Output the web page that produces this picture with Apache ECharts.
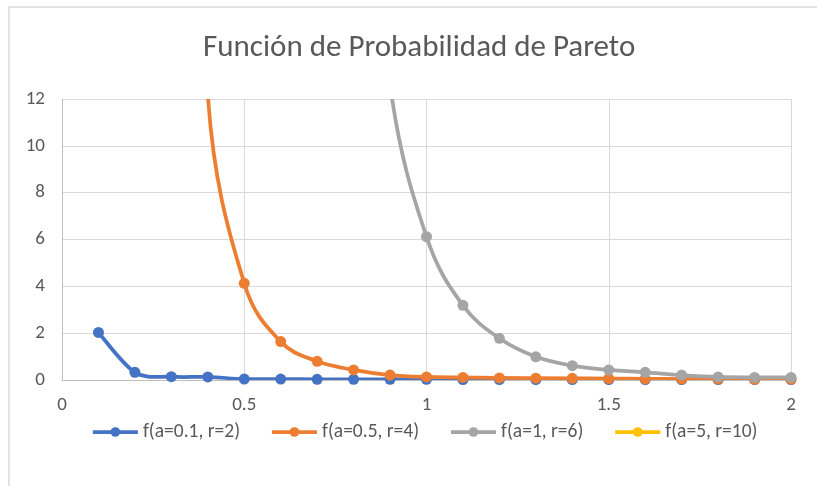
<!DOCTYPE html>
<html>
<head>
<meta charset="utf-8">
<script src="https://cdn.jsdelivr.net/npm/echarts@6/dist/echarts.min.js"></script>
<style>html,body{margin:0;padding:0;background:#fff}#c{width:817px;height:486px}</style>
</head>
<body>
<div id="c"></div>
<script>
// x values
const xValues = [0.1,0.2,0.3,0.4,0.5,0.6,0.7,0.8,0.9,1.0,1.1,1.2,1.3,1.4,1.5,1.6,1.7,1.8,1.9,2.0];
// series values (values above 12 are off-chart estimates)
const blue   = [2.03,0.33,0.14,0.13,0.04,0.04,0.03,0.03,0.03,0.03,0.02,0.02,0.02,0.02,0.02,0.02,0.02,0.02,0.02,0.02];
const orange = [12500,390,51,12.2,4.13,1.64,0.8,0.43,0.21,0.13,0.11,0.09,0.08,0.07,0.06,0.05,0.04,0.04,0.03,0.03];
const gray   = [6.0e7,470000,27000,3700,770,214,73,28.6,12.6,6.12,3.19,1.78,0.99,0.61,0.43,0.33,0.21,0.13,0.11,0.11];
const yellow = [9e6,5e6,3e6,2e6,1.5e6,1.2e6,1e6,8e5,7e5,6e5,5.5e5,5e5,4.5e5,4e5,3.6e5,3.3e5,3e5,2.8e5,2.6e5,2.4e5];
const seriesNames = ['f(a=0.1, r=2)','f(a=0.5, r=4)','f(a=1, r=6)','f(a=5, r=10)'];
const colors = ['#4472C4','#ED7D31','#A5A5A5','#FFC000'];
const xTicks = {min:0, max:2, interval:0.5};
const yTicks = {min:0, max:12, interval:2};

const all = [blue, orange, gray, yellow];
const pair = arr => xValues.map((x,i)=>[x,arr[i]]);
const font = 'Calibri, Carlito, "Open Sans", sans-serif';
const LW = 3.75;

// Excel-like smoothing: control point = p_i +/- (p_{i+1}-p_{i-1})/6, limited to half the segment
function ctrl(prev, cur, next, seg) {
  const dx = next[0]-prev[0], dy = next[1]-prev[1];
  const len = Math.hypot(dx,dy);
  if (len === 0) return [0,0];
  let f = 1/6;
  const segLen = Math.hypot(seg[0], seg[1]);
  if (len*f > 0.5*segLen) f = 0.5*segLen/len;
  return [dx*f, dy*f];
}
function curveSeries(arr, i) {
  return {
    name: 'curve'+i, type:'custom', coordinateSystem:'cartesian2d',
    data:[[xValues[0], arr[0]]], clip:true, z: 10+2*i, silent:true,
    renderItem(params, api) {
      const p = xValues.map((x,k)=>api.coord([x, arr[k]]));
      const n = p.length;
      let d = 'M'+p[0][0]+','+p[0][1];
      for (let k=0;k<n-1;k++){
        const a = p[k-1] || p[k], b = p[k], c = p[k+1], e = p[k+2] || p[k+1];
        const seg = [c[0]-b[0], c[1]-b[1]];
        const t1 = ctrl(a,b,c,seg), t2 = ctrl(b,c,e,seg);
        d += ' C'+(b[0]+t1[0])+','+(b[1]+t1[1])+' '+(c[0]-t2[0])+','+(c[1]-t2[1])+' '+c[0]+','+c[1];
      }
      const cs = params.coordSys;
      return {
        type:'group',
        clipPath:{type:'rect', shape:{x:cs.x, y:cs.y, width:cs.width, height:cs.height}},
        children:[{type:'path', shape:{pathData:d},
          style:{fill:'none', stroke:colors[i], lineWidth:LW, lineJoin:'round', lineCap:'round'}}]
      };
    }
  };
}

const chart = echarts.init(document.getElementById('c'));
chart.setOption({
  animation:false,
  color: colors,
  textStyle:{fontFamily:font},
  title:{text:'Función de Probabilidad de Pareto', left:198, top:28,
    textStyle:{fontSize:31, fontWeight:'normal', color:'#595959', fontFamily:font}},
  graphic:[{type:'rect', shape:{x:9,y:7,width:900,height:600},
    style:{fill:'none', stroke:'#d9d9d9', lineWidth:1.5}, silent:true}],
  grid:{left:62, right:26, top:99, bottom:106},
  legend:{left:86, top:417, itemWidth:45, itemHeight:12, itemGap:30,
    textStyle:{fontSize:19.5, color:'#595959', fontFamily:font},
    data: seriesNames.map((n,i)=>({name:n, lineStyle:{width:LW, color:colors[i], opacity:1}}))},
  xAxis:{type:'value', min:xTicks.min, max:xTicks.max, interval:xTicks.interval,
    axisLine:{show:true, lineStyle:{color:'#bfbfbf', width:1}},
    axisTick:{show:false},
    axisLabel:{color:'#595959', fontSize:19, margin:16},
    splitLine:{show:true, lineStyle:{color:'#d9d9d9', width:1}}},
  yAxis:{type:'value', min:yTicks.min, max:yTicks.max, interval:yTicks.interval,
    axisLine:{show:true, lineStyle:{color:'#bfbfbf', width:1}},
    axisTick:{show:false},
    axisLabel:{color:'#595959', fontSize:19, margin:17},
    splitLine:{show:true, lineStyle:{color:'#d9d9d9', width:1}}},
  series: all.map((arr,i)=>({
    name: seriesNames[i], type:'line', data: pair(arr),
    symbol:'circle', symbolSize:11, clip:true, z: 11+2*i,
    lineStyle:{width:0, opacity:0, color:colors[i]},
    itemStyle:{color:colors[i]}
  })).concat(all.map((arr,i)=>curveSeries(arr,i)))
});
</script>
</body>
</html>
